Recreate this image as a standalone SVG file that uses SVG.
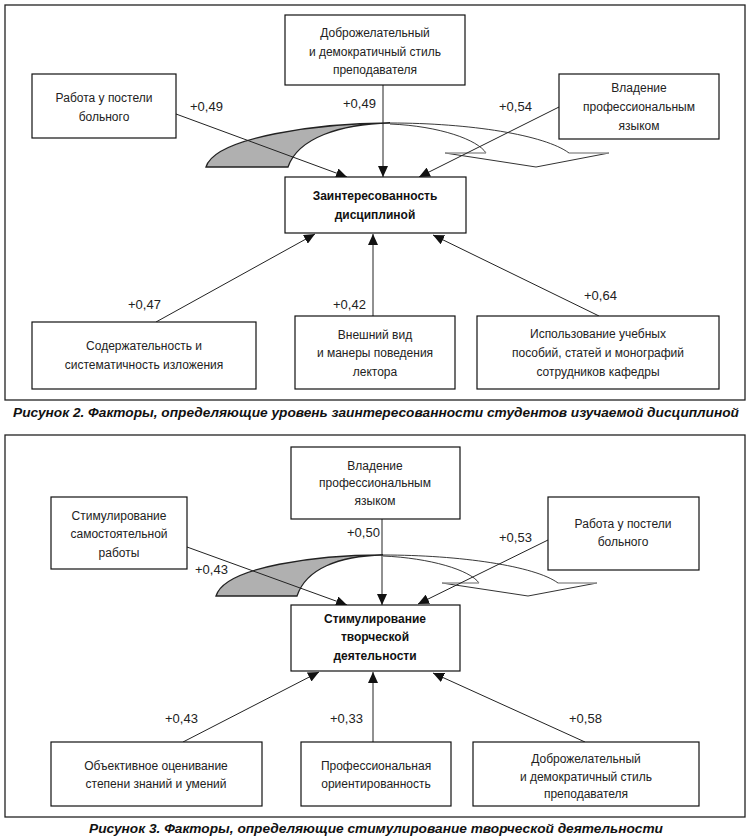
<svg xmlns="http://www.w3.org/2000/svg" width="752" height="840" viewBox="0 0 752 840">
<style>
.frame{fill:none;stroke:#222;stroke-width:1.3}
.box{fill:#fff;stroke:#111;stroke-width:1.2}
.t{font-family:"Liberation Sans",Arial,sans-serif;font-size:12px;fill:#222;text-anchor:middle}
.b{font-weight:bold;fill:#111}
.lbl{font-family:"Liberation Sans",Arial,sans-serif;font-size:13px;fill:#222}
.cap{font-family:"Liberation Sans",Arial,sans-serif;font-size:13.7px;font-weight:bold;font-style:italic;fill:#111}
.con{stroke:#222;stroke-width:1;fill:none;marker-end:url(#ah)}
.shade{fill:#b0b0b0;stroke:#222;stroke-width:1.3}
.arc{fill:none;stroke:#222;stroke-width:0.9}
.head{fill:none;stroke:#333;stroke-width:1}
.headtop{fill:none;stroke:#999;stroke-width:1.5}
</style>
<defs>
<marker id="ah" markerUnits="userSpaceOnUse" markerWidth="11" markerHeight="10" refX="11" refY="5" orient="auto">
<path d="M0,0 L11,5 L0,10 z" fill="#111"/>
</marker>
</defs>
<rect width="752" height="840" fill="#fff"/>

<!-- Figure 2 -->
<g id="fig2-frame"><rect class="frame" x="5" y="5" width="740" height="395"/></g>
<g id="fig2-curved-arrow">
<path class="shade" d="M206,167 C215,137 320,123 390,123 C340,124 298,138 288,167 Z"/>
<path class="arc" d="M390,123 C470,123 545,135 569,153"/>
<path class="arc" d="M390,124 C440,126 478,140 486,153"/>
<polyline class="head" points="445,153 536,167 609,153"/>
<line class="headtop" x1="445" y1="153" x2="486" y2="153"/>
<line class="headtop" x1="569" y1="153" x2="609" y2="153"/>
</g>
<g id="fig2-connectors">
<line class="con" x1="176" y1="114" x2="347" y2="177"/>
<line class="con" x1="383" y1="85" x2="383" y2="177"/>
<line class="con" x1="559" y1="107" x2="419" y2="177"/>
<line class="con" x1="156" y1="322" x2="315" y2="234"/>
<line class="con" x1="373" y1="316" x2="373" y2="234"/>
<line class="con" x1="599" y1="316" x2="433" y2="235"/>
</g>
<g id="fig2-labels">
<text class="lbl" x="190" y="111">+0,49</text>
<text class="lbl" x="343" y="108">+0,49</text>
<text class="lbl" x="499" y="111">+0,54</text>
<text class="lbl" x="128" y="309">+0,47</text>
<text class="lbl" x="333" y="309">+0,42</text>
<text class="lbl" x="584" y="300">+0,64</text>
</g>
<g id="fig2-n-top"><rect class="box" x="285" y="15" width="180" height="70"/>
<text class="t" x="375" y="37">Доброжелательный</text><text class="t" x="375" y="56">и демократичный стиль</text><text class="t" x="375" y="74">преподавателя</text></g>
<g id="fig2-n-left"><rect class="box" x="32" y="74" width="144" height="64"/>
<text class="t" x="104" y="102">Работа у постели</text><text class="t" x="104" y="121">больного</text></g>
<g id="fig2-n-right"><rect class="box" x="559" y="74" width="160" height="65"/>
<text class="t" x="639" y="92">Владение</text><text class="t" x="639" y="111">профессиональным</text><text class="t" x="639" y="130">языком</text></g>
<g id="fig2-n-center"><rect class="box" x="285" y="177" width="181" height="56"/>
<text class="t b" x="375" y="200">Заинтересованность</text><text class="t b" x="375" y="219">дисциплиной</text></g>
<g id="fig2-n-bl"><rect class="box" x="32" y="322" width="224" height="67"/>
<text class="t" x="144" y="350">Содержательность и</text><text class="t" x="144" y="369">систематичность изложения</text></g>
<g id="fig2-n-bm"><rect class="box" x="295" y="316" width="160" height="73"/>
<text class="t" x="375" y="339">Внешний вид</text><text class="t" x="375" y="357">и манеры поведения</text><text class="t" x="375" y="376">лектора</text></g>
<g id="fig2-n-br"><rect class="box" x="477" y="316" width="242" height="73"/>
<text class="t" x="598" y="338">Использование учебных</text><text class="t" x="598" y="357">пособий, статей и монографий</text><text class="t" x="598" y="376">сотрудников кафедры</text></g>
<g id="fig2-caption"><text class="cap" x="376" y="417" text-anchor="middle">Рисунок 2. Факторы, определяющие уровень заинтересованности студентов изучаемой дисциплиной</text></g>

<!-- Figure 3 -->
<g id="fig3-frame"><rect class="frame" x="5" y="435" width="740" height="382"/></g>
<g id="fig3-curved-arrow">
<path class="shade" d="M216,596 C225,566 320,555 383,555 C338,556 306,569 297,596 Z"/>
<path class="arc" d="M383,555 C460,555 535,566 558,583"/>
<path class="arc" d="M383,556 C430,558 470,570 479,583"/>
<polyline class="head" points="442,583 528,596 597,583"/>
<line class="headtop" x1="442" y1="583" x2="479" y2="583"/>
<line class="headtop" x1="558" y1="583" x2="597" y2="583"/>
</g>
<g id="fig3-connectors">
<line class="con" x1="187" y1="547" x2="347" y2="605"/>
<line class="con" x1="382" y1="519" x2="382" y2="605"/>
<line class="con" x1="548" y1="540" x2="418" y2="604"/>
<line class="con" x1="183" y1="742" x2="319" y2="672"/>
<line class="con" x1="373" y1="742" x2="373" y2="672"/>
<line class="con" x1="585" y1="742" x2="433" y2="673"/>
</g>
<g id="fig3-labels">
<text class="lbl" x="347" y="537">+0,50</text>
<text class="lbl" x="195" y="574">+0,43</text>
<text class="lbl" x="499" y="542">+0,53</text>
<text class="lbl" x="165" y="723">+0,43</text>
<text class="lbl" x="330" y="723">+0,33</text>
<text class="lbl" x="569" y="723">+0,58</text>
</g>
<g id="fig3-n-top"><rect class="box" x="291" y="447" width="169" height="72"/>
<text class="t" x="375" y="470">Владение</text><text class="t" x="375" y="487">профессиональным</text><text class="t" x="375" y="505">языком</text></g>
<g id="fig3-n-left"><rect class="box" x="51" y="497" width="136" height="72"/>
<text class="t" x="119" y="520">Стимулирование</text><text class="t" x="119" y="538">самостоятельной</text><text class="t" x="119" y="557">работы</text></g>
<g id="fig3-n-right"><rect class="box" x="548" y="497" width="151" height="73"/>
<text class="t" x="623" y="528">Работа у постели</text><text class="t" x="623" y="546">больного</text></g>
<g id="fig3-n-center"><rect class="box" x="291" y="605" width="169" height="66"/>
<text class="t b" x="375" y="623">Стимулирование</text><text class="t b" x="375" y="641">творческой</text><text class="t b" x="375" y="660">деятельности</text></g>
<g id="fig3-n-bl"><rect class="box" x="51" y="742" width="211" height="64"/>
<text class="t" x="156" y="770">Объективное оценивание</text><text class="t" x="156" y="788">степени знаний и умений</text></g>
<g id="fig3-n-bm"><rect class="box" x="301" y="742" width="150" height="64"/>
<text class="t" x="376" y="770">Профессиональная</text><text class="t" x="376" y="788">ориентированность</text></g>
<g id="fig3-n-br"><rect class="box" x="473" y="742" width="226" height="64"/>
<text class="t" x="586" y="763">Доброжелательный</text><text class="t" x="586" y="781">и демократичный стиль</text><text class="t" x="586" y="798">преподавателя</text></g>
<g id="fig3-caption"><text class="cap" x="376" y="833" text-anchor="middle">Рисунок 3. Факторы, определяющие стимулирование творческой деятельности</text></g>
</svg>
